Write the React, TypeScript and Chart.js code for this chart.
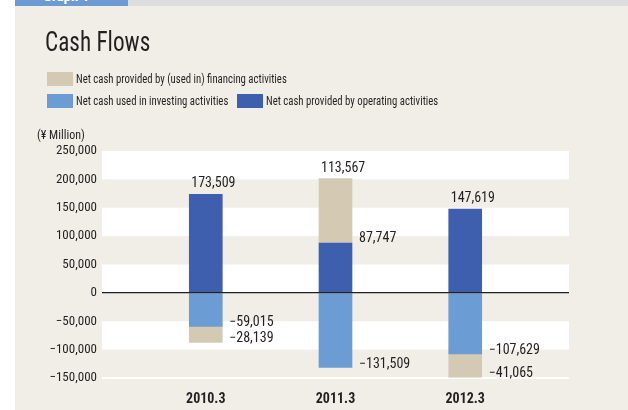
import React, { useEffect, useRef } from "react";
import { Chart, registerables } from "chart.js";

Chart.register(...registerables);

const categories = ["2010.3", "2011.3", "2012.3"];
const operating = [173509, 87747, 147619];
const investing = [-59015, -131509, -107629];
const financing = [-28139, 113567, -41065];

const seriesLabels = [
  "Net cash provided by operating activities",
  "Net cash used in investing activities",
  "Net cash provided by (used in) financing activities",
];
const seriesColors = ["#3d5fad", "#6b9cd4", "#d4cab4"];
const seriesValues = [operating, investing, financing];

const FONT = '"Roboto Condensed", "Liberation Sans", sans-serif';
const TEXT = "#231f20";

const fmt = (n: number) =>
  (n < 0 ? "\u2212" : "") + Math.abs(n).toLocaleString("en-US");

const bandsPlugin = {
  id: "bands",
  beforeDatasetsDraw(chart: any) {
    const { ctx, chartArea } = chart;
    const y = chart.scales.y;
    const vals = y.ticks.map((t: any) => t.value).sort((a: number, b: number) => b - a);
    ctx.save();
    ctx.fillStyle = "#ffffff";
    for (let i = 0; i < vals.length - 1; i += 2) {
      const y1 = y.getPixelForValue(vals[i]);
      const y2 = y.getPixelForValue(vals[i + 1]);
      ctx.fillRect(chartArea.left, y1, chartArea.right - chartArea.left, y2 - y1);
    }
    const yb = y.getPixelForValue(vals[vals.length - 1]);
    ctx.fillRect(chartArea.left, yb - 1, chartArea.right - chartArea.left, 2);
    ctx.restore();
  },
};

const labelsPlugin = {
  id: "barLabels",
  afterDatasetsDraw(chart: any) {
    const { ctx } = chart;
    ctx.save();
    ctx.font = `14px ${FONT}`;
    ctx.fillStyle = TEXT;
    ctx.textBaseline = "alphabetic";
    ctx.textAlign = "left";
    const n = chart.data.datasets.length;
    for (let di = 0; di < n; di++) {
      const meta = chart.getDatasetMeta(di);
      meta.data.forEach((el: any, i: number) => {
        const v = seriesValues[di][i];
        const left = el.x - el.width / 2;
        const right = el.x + el.width / 2;
        if (v >= 0) {
          let topMost = true;
          for (let dj = di + 1; dj < n; dj++) if (seriesValues[dj][i] > 0) topMost = false;
          if (topMost) ctx.fillText(fmt(v), left + 2, el.y - 7);
          else ctx.fillText(fmt(v), right + 7, el.y - 1);
        } else {
          ctx.fillText(fmt(v), right + 7, el.y);
        }
      });
    }
    ctx.restore();
  },
};

export default function App() {
  const ref = useRef<HTMLCanvasElement>(null);
  useEffect(() => {
    document.body.style.margin = "0";
    const chart = new Chart(ref.current!, {
      type: "bar",
      data: {
        datasets: seriesLabels.map((label, di) => ({
          label,
          data: categories.map((_, i) => ({ x: i, y: seriesValues[di][i] })),
          backgroundColor: seriesColors[di],
          borderWidth: 0,
          barThickness: 33,
        })),
      },
      options: {
        animation: false,
        responsive: false,
        layout: { padding: { top: 151, right: 59, left: 0, bottom: 0 } },
        plugins: { legend: { display: false }, tooltip: { enabled: false } },
        scales: {
          x: {
            type: "linear",
            min: -0.8,
            max: 2.8,
            offset: false,
            stacked: true,
            grid: { display: false, offset: false },
            border: { display: false },
            afterBuildTicks: (s: any) => {
              s.ticks = categories.map((_, i) => ({ value: i }));
            },
            afterFit: (s: any) => {
              s.height = 32;
            },
            ticks: {
              callback: (v: any) => categories[v] ?? "",
              font: { family: FONT, size: 14, weight: "bold" },
              color: TEXT,
              padding: 5,
              maxRotation: 0,
              autoSkip: false,
            },
          },
          y: {
            min: -150000,
            max: 250000,
            stacked: true,
            border: { display: false },
            afterFit: (s: any) => {
              s.width = 102;
            },
            grid: {
              z: 1,
              drawTicks: false,
              color: (c: any) => (c.tick && c.tick.value === 0 ? TEXT : "rgba(0,0,0,0)"),
              lineWidth: (c: any) => (c.tick && c.tick.value === 0 ? 1.3 : 0),
            },
            ticks: {
              stepSize: 50000,
              padding: 5,
              callback: (v: any) => fmt(Number(v)),
              font: { family: FONT, size: 13 },
              color: TEXT,
            },
          },
        },
      } as any,
      plugins: [bandsPlugin, labelsPlugin],
    });
    return () => chart.destroy();
  }, []);

  const legendItem = (di: number, left: number, top: number) => (
    <div key={di} style={{ position: "absolute", left, top, display: "flex", alignItems: "center", whiteSpace: "nowrap" }}>
      <div style={{ width: 26, height: 14, background: seriesColors[di], marginRight: 3 }} />
      <span
        style={{
          fontFamily: FONT,
          fontSize: 12.5,
          color: TEXT,
          lineHeight: "14px",
          display: "inline-block",
          transform: "scaleX(0.86)",
          transformOrigin: "left center",
        }}
      >
        {seriesLabels[di]}
      </span>
    </div>
  );

  return (
    <div style={{ position: "relative", width: 628, height: 410, background: "#ffffff", overflow: "hidden" }}>
      <div style={{ position: "absolute", left: 15, top: 0, width: 613, height: 410, background: "#f1eee8" }} />
      <div style={{ position: "absolute", left: 128, top: 0, width: 500, height: 6, background: "#dcdddd" }} />
      <div style={{ position: "absolute", left: 15, top: 0, width: 113, height: 6, background: "#6b9bd2", overflow: "hidden" }}>
        <div style={{ position: "absolute", left: 28, top: -13, fontFamily: FONT, fontWeight: "bold", fontSize: 15, lineHeight: "18px", color: "#ffffff" }}>Graph 1</div>
      </div>
      <canvas ref={ref} width={628} height={410} style={{ position: "absolute", left: 0, top: 0 }} />
      <div
        style={{
          position: "absolute",
          left: 45,
          top: 26,
          fontFamily: FONT,
          fontSize: 27,
          color: TEXT,
          lineHeight: "32px",
          whiteSpace: "nowrap",
          transform: "scaleX(0.86)",
          transformOrigin: "left center",
        }}
      >
        Cash Flows
      </div>
      {legendItem(2, 47, 72)}
      {legendItem(1, 47, 94)}
      {legendItem(0, 237, 94)}
      <div style={{ position: "absolute", left: 37, top: 128, fontFamily: FONT, fontSize: 12, color: TEXT, lineHeight: "14px" }}>(¥ Million)</div>
    </div>
  );
}
